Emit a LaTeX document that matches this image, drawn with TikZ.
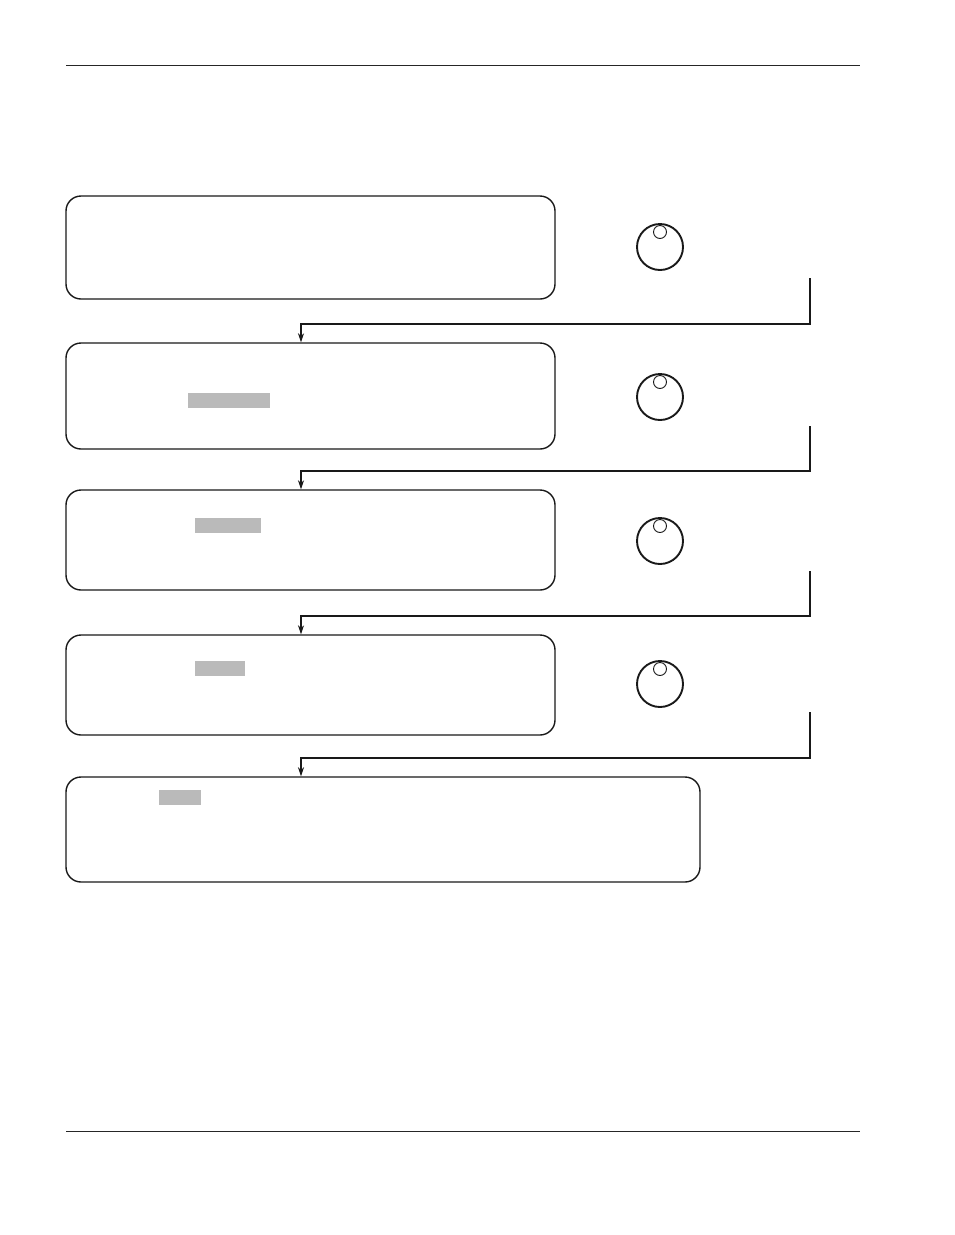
\documentclass[tikz,border=0pt]{standalone}
\usetikzlibrary{arrows.meta}
\begin{document}
\begin{tikzpicture}[x=1pt,y=-1pt,
  panel/.style={draw=black!90,line width=1.4pt,rounded corners=15pt,inner sep=0pt,minimum width=489pt},
  hilite/.style={fill=black!27,draw=none,inner sep=0pt},
  knob/.style={draw=black!90,circle,line width=1.9pt,minimum size=46pt,inner sep=0pt},
  dot/.style={draw=black!90,circle,line width=0.9pt,minimum size=13pt,inner sep=0pt},
  rule/.style={line width=0.8pt,black!85},
  link/.style={line width=1.3pt,black!90,-{Stealth[length=9pt,width=6pt]}}]
\useasboundingbox (0,0) rectangle (954,1235);
% page rules
\coordinate (t1) at (66,65); \coordinate (t2) at (860,65);
\coordinate (u1) at (66,1131); \coordinate (u2) at (860,1131);
\draw[rule] (t1) -- (t2);
\draw[rule] (u1) -- (u2);
% panels
\node[panel,minimum height=103pt] (b1) at (310.5,247.5) {};
\node[panel,minimum height=106pt] (b2) at (310.5,396) {};
\node[panel,minimum height=100pt] (b3) at (310.5,540) {};
\node[panel,minimum height=100pt] (b4) at (310.5,685) {};
\node[panel,minimum width=634pt,minimum height=105pt] (b5) at (383,829.5) {};
% highlights
\node[hilite,minimum width=82pt,minimum height=15pt] (h2) at (229,400.5) {};
\node[hilite,minimum width=66pt,minimum height=15pt] (h3) at (228,525.5) {};
\node[hilite,minimum width=50pt,minimum height=15pt] (h4) at (220,668.5) {};
\node[hilite,minimum width=42pt,minimum height=15pt] (h5) at (180,797) {};
% knobs
\node[knob] (k1) at (660,247) {};
\node[dot] (d1) at (660,232) {};
\node[knob] (k2) at (660,397) {};
\node[dot] (d2) at (660,382) {};
\node[knob] (k3) at (660,541) {};
\node[dot] (d3) at (660,526) {};
\node[knob] (k4) at (660,684) {};
\node[dot] (d4) at (660,669) {};
% connectors
\coordinate (s1) at (810,278);
\coordinate (s2) at (810,426);
\coordinate (s3) at (810,571);
\coordinate (s4) at (810,712);
\draw[link] (s1) |- (301,324) -- (b2.north -| 301,0);
\draw[link] (s2) |- (301,471) -- (b3.north -| 301,0);
\draw[link] (s3) |- (301,616) -- (b4.north -| 301,0);
\draw[link,line width=1.6pt] (s4) |- (301,758) -- (b5.north -| 301,0);
\end{tikzpicture}
\end{document}
